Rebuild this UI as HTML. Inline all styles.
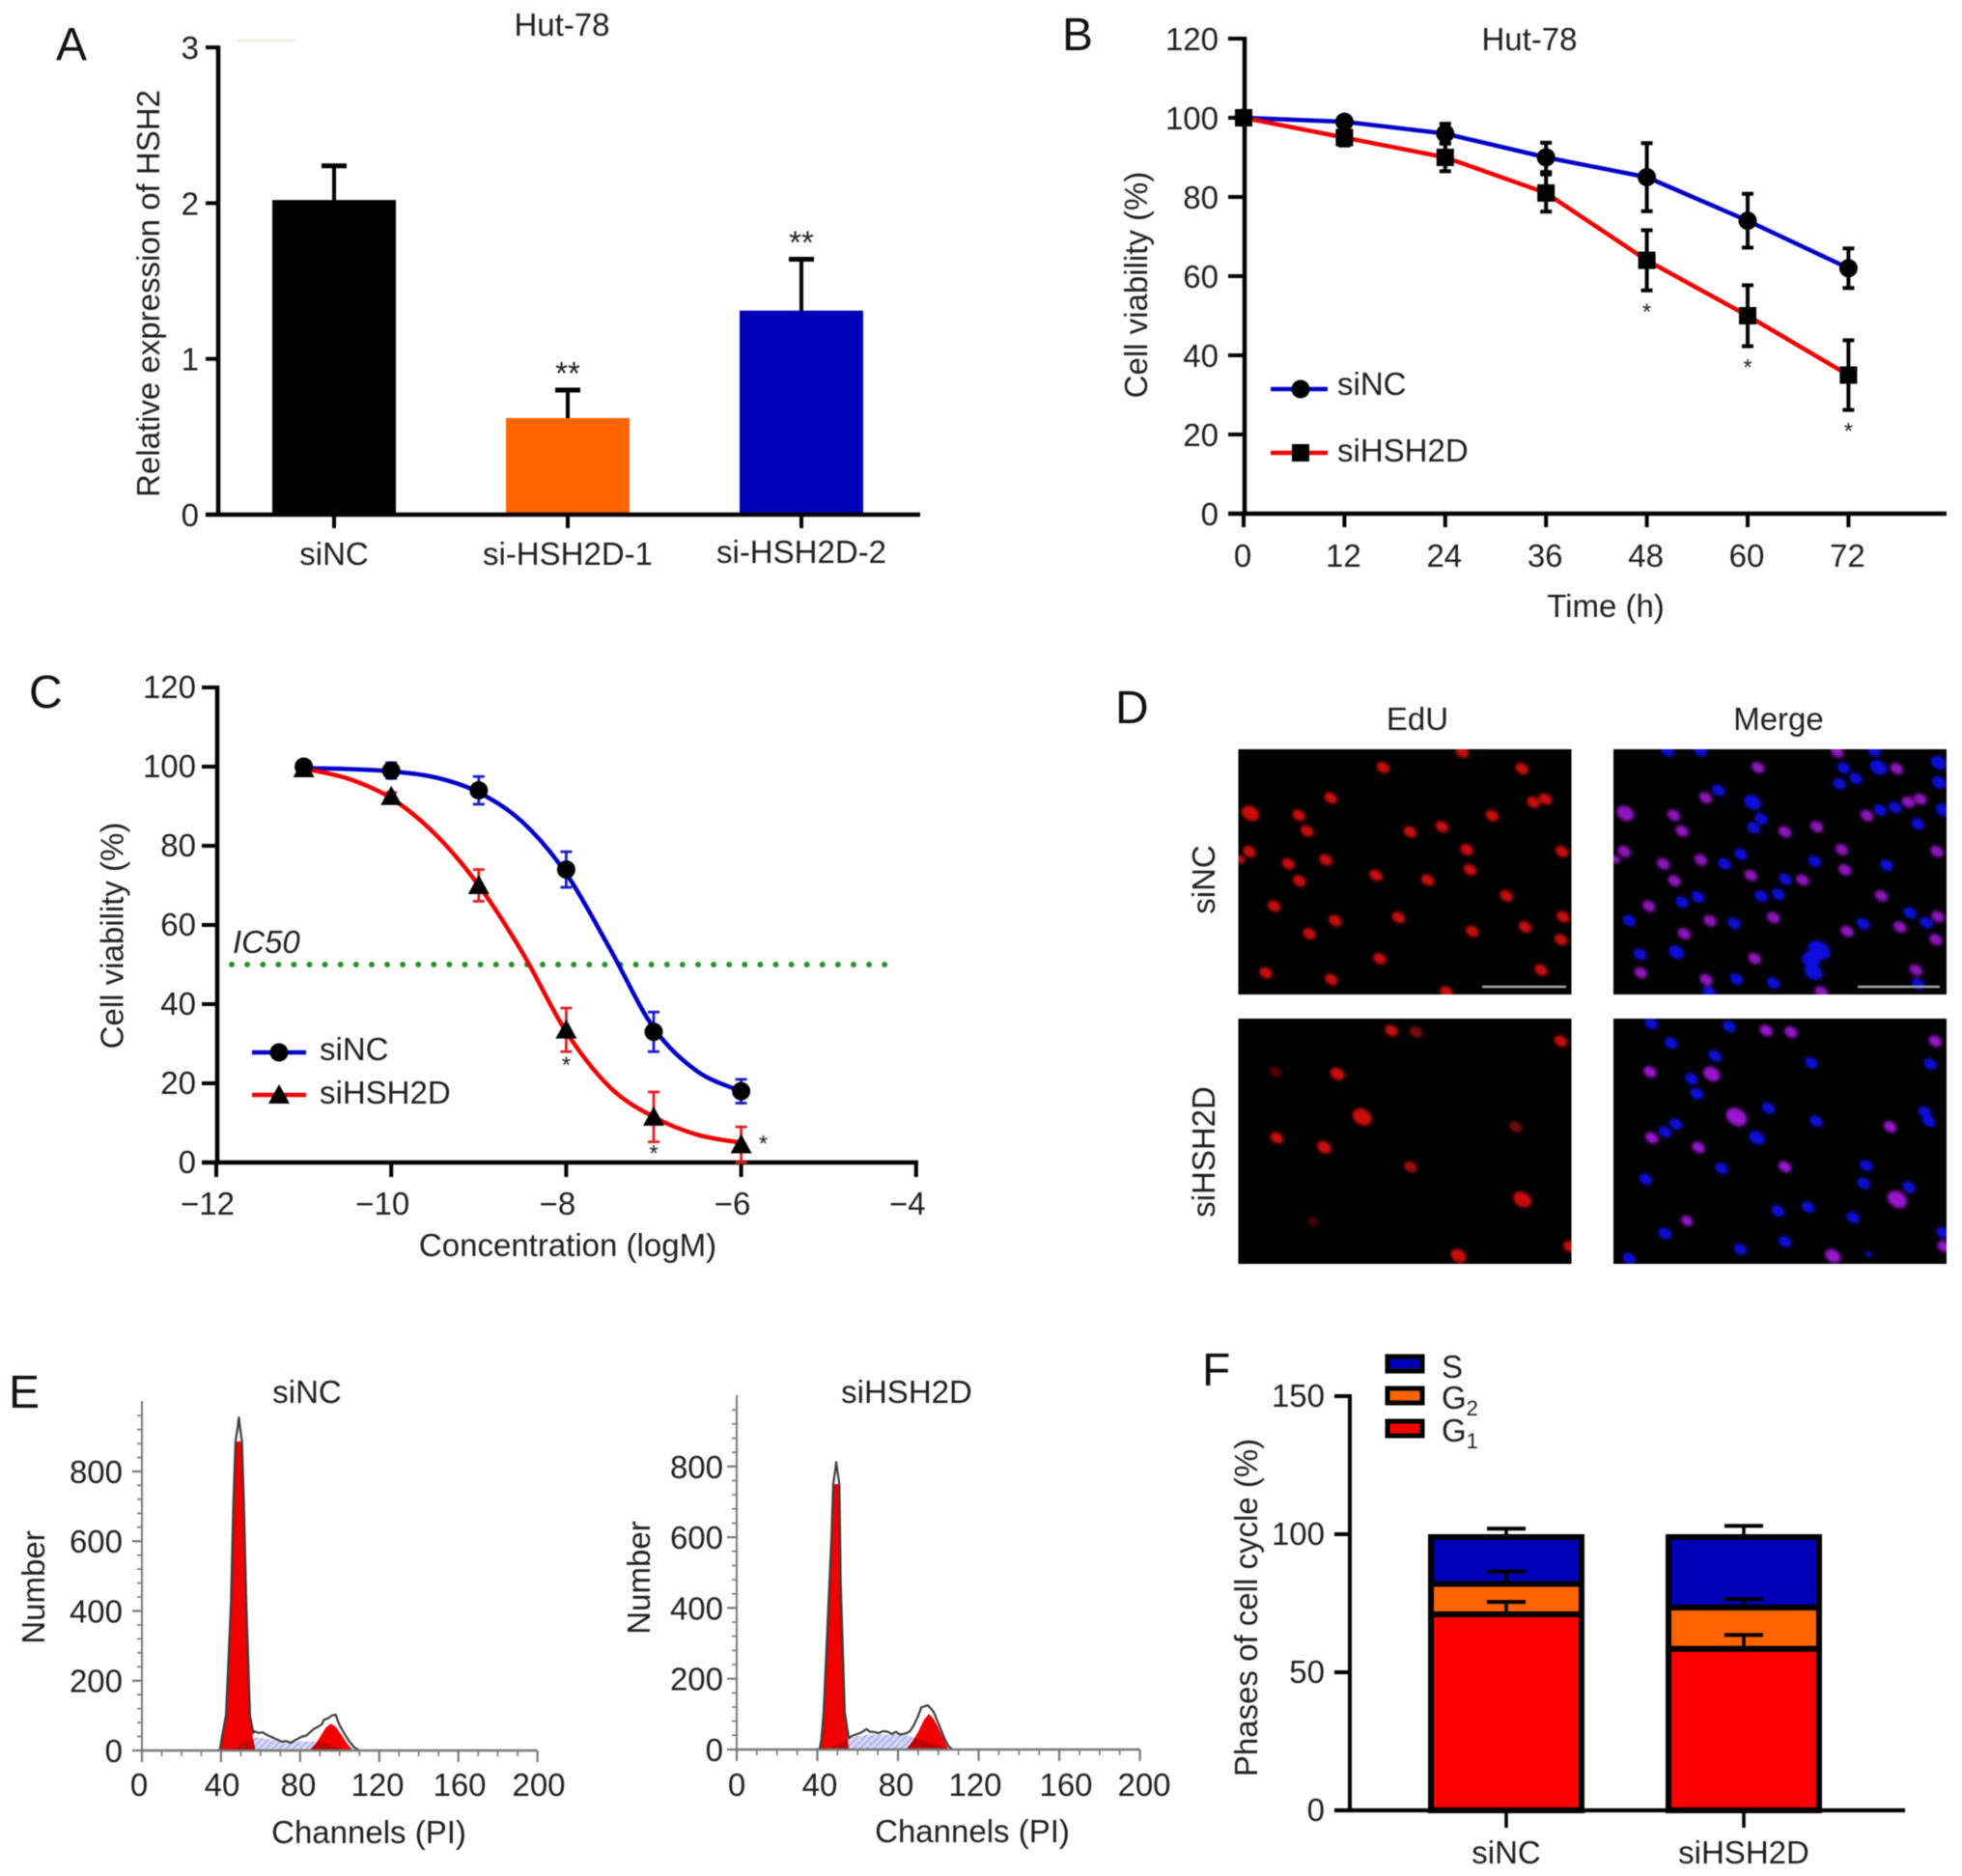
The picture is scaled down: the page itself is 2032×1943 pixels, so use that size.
<!DOCTYPE html>
<html lang="en">
<head>
<meta charset="utf-8">
<title>HSH2D knockdown figure</title>
<style>
html,body{margin:0;padding:0;background:#fff;}
#figure{display:block;width:2032px;height:1943px;filter:blur(0.6px);}
text{font-family:"Liberation Sans",Arial,sans-serif;fill:#1f1f1f;}
.letter{font-size:48px;fill:#111;}
.title{font-size:33px;}
</style>
</head>
<body>
<svg id="figure" xmlns="http://www.w3.org/2000/svg" width="2032" height="1943" viewBox="0 0 2032 1943">
  <defs>
    <pattern id="hatch" width="5" height="5" patternUnits="userSpaceOnUse" patternTransform="rotate(45)">
      <rect width="5" height="5" fill="#d6d6f6"/>
      <line x1="0" y1="0" x2="0" y2="5" stroke="#8a8ae0" stroke-width="1.6"/>
    </pattern>
    <filter id="soft" x="-30%" y="-30%" width="160%" height="160%"><feGaussianBlur stdDeviation="1.9"/></filter>
  </defs>
  <rect width="2032" height="1943" fill="#fff"/>

  <text class="letter" x="58" y="62">A</text>
  <text class="letter" x="1100" y="52">B</text>
  <text class="letter" x="30" y="733">C</text>
  <text class="letter" x="1155" y="749">D</text>
  <text class="letter" x="9" y="1458">E</text>
  <text class="letter" x="1245" y="1435">F</text>

  <line x1="245" y1="42" x2="306" y2="42" stroke="#eef0d8" stroke-width="2.5"/>
  <text class="title" x="582" y="37" text-anchor="middle">Hut-78</text>
  <text class="title" transform="translate(165,304) rotate(-90)" text-anchor="middle">Relative expression of HSH2</text>

  <text class="title" x="1584" y="52" text-anchor="middle">Hut-78</text>
  <text class="title" transform="translate(1188,295) rotate(-90)" text-anchor="middle">Cell viability (%)</text>
  <text class="title" x="1663" y="639" text-anchor="middle">Time (h)</text>
  <text class="title" x="1385" y="409">siNC</text>
  <text class="title" x="1385" y="478">siHSH2D</text>

  <text class="title" transform="translate(127.5,969) rotate(-90)" text-anchor="middle">Cell viability (%)</text>
  <text class="title" x="588" y="1301" text-anchor="middle">Concentration (logM)</text>
  <text class="title" x="241" y="987" font-style="italic">IC50</text>
  <text class="title" x="331" y="1098">siNC</text>
  <text class="title" x="331" y="1143">siHSH2D</text>

  <text class="title" x="1468" y="756" text-anchor="middle">EdU</text>
  <text class="title" x="1842" y="756" text-anchor="middle">Merge</text>
  <text class="title" transform="translate(1258,911) rotate(-90)" text-anchor="middle">siNC</text>
  <text class="title" transform="translate(1258,1193) rotate(-90)" text-anchor="middle">siHSH2D</text>

  <text class="title" x="318" y="1453" text-anchor="middle">siNC</text>
  <text class="title" x="939" y="1453" text-anchor="middle">siHSH2D</text>
  <text class="title" transform="translate(46,1644) rotate(-90)" text-anchor="middle">Number</text>
  <text class="title" transform="translate(673,1634) rotate(-90)" text-anchor="middle">Number</text>
  <text class="title" x="382" y="1909" text-anchor="middle">Channels (PI)</text>
  <text class="title" x="1007" y="1908" text-anchor="middle">Channels (PI)</text>

  <text class="title" transform="translate(1302,1665) rotate(-90)" text-anchor="middle">Phases of cell cycle (%)</text>
  <text class="title" x="1493" y="1427">S</text>
  <text class="title" x="1493" y="1459">G<tspan font-size="22" dy="7">2</tspan></text>
  <text class="title" x="1493" y="1493">G<tspan font-size="22" dy="7">1</tspan></text>
</svg>

<script>
/* ---------- Panel A data ---------- */
const aCategories = ['siNC', 'si-HSH2D-1', 'si-HSH2D-2'];
const aValues = [2.02, 0.62, 1.31];
const aErrors = [0.22, 0.18, 0.33];
const aStars = ['', '**', '**'];
const aColors = ['#000000', '#ff6400', '#0000b8'];
const aTicks = [0, 1, 2, 3];

/* ---------- Panel B data ---------- */
const bTimes = [0, 12, 24, 36, 48, 60, 72];
const bNC = [100, 99, 96, 90, 85, 74, 62];
const bNCErr = [0.5, 1, 2.5, 3.7, 8.6, 6.8, 5];
const bKD = [100, 95, 90, 81, 64, 50, 35];
const bKDErr = [0.5, 2, 3.5, 4.7, 7.6, 7.7, 8.8];
const bStars = ['', '', '', '', '*', '*', '*'];
const bYTicks = [0, 20, 40, 60, 80, 100, 120];

/* ---------- Panel C data ---------- */
const cConc = [-11, -10, -9, -8, -7, -6];
const cNC = [100, 99, 94, 74, 33, 18];
const cNCErr = [1.5, 2, 3.5, 4.5, 5, 3];
const cKD = [99.5, 92.5, 70, 33.5, 11.5, 4.5];
const cKDErr = [1, 1, 4, 5.5, 6.3, 4.5];
const cFitConc = [-11, -10.5, -10, -9.5, -9, -8.5, -8, -7.5, -7, -6.5, -6];
const cFitNC = [99.6, 99.4, 98.8, 97.3, 93.5, 86, 73, 54, 34, 23, 18];
const cFitKD = [99.5, 97, 92, 83, 70, 53, 33, 19, 11.5, 7, 5];
const cYTicks = [0, 20, 40, 60, 80, 100, 120];
const cXTicks = [-12, -10, -8, -6, -4];
const cThreshold = 50;

/* ---------- Panel D nuclei (field coordinates of the micrograph crop) ---------- */
const dTopRed = [[657,193],[513,232],[765,235],[418,309],[786,320],[808,312],[272,348,1.35],[360,353],[711,354],[375,393],[562,395],[620,382],[270,445],[665,440],[838,445],[341,476],[409,466],[254,465,.7],[671,491],[500,505],[594,517],[361,519],[737,557],[315,583],[426,620],[541,612],[840,610],[771,636],[675,647],[379,653],[836,668],[507,716],[800,745],[300,752],[419,769],[628,800]];
const dTopBlue = [[1350,233],[1413,232,1.3],[1522,220,1.2],[1372,260],[1342,273],[1523,270,1.1],[1122,290],[1184,320,1.3],[1200,362],[1186,385],[1416,340],[1443,333],[1530,340,1.1],[1485,375],[1163,452],[1133,476],[1297,470],[1428,480],[1244,515],[1200,558],[1231,553],[1056,573],[1085,560],[960,620],[1151,627],[1470,600],[1385,628],[1500,625],[1046,700,1.2],[980,705],[1305,695,1.7],[1290,720,1.4],[1295,750,1.4],[1155,768],[1222,778],[1105,800],[1485,780],[1030,190],[1090,190],[1405,190]];
const dBottomRed = [[528,898],[573,902,1,.6],[836,925],[318,1003,.9,.45],[430,1008,1.1],[475,1117,1.5],[754,1142,1,.55],[320,1170],[406,1194,1.1],[563,1243,1,.8],[766,1326,1.4],[386,1382,.8,.4],[650,1469,1.2],[852,1445]];
const dBottomPurple = [[1209,898],[1254,902],[1516,925],[998,1003],[1110,1008,1.3],[1155,1117,1.6],[1434,1142],[1001,1170],[1086,1194],[1243,1243],[1447,1326,1.5],[1065,1380,.9],[1330,1469,1.2],[1532,1445]];
const dBottomBlue = [[1000,880],[1142,888],[1036,930],[1116,963],[1291,980],[1507,983],[1073,1020],[1083,1058],[1213,1095],[1497,1105],[1505,1128],[1300,1128],[1045,1135],[1025,1155],[1192,1170,1.2],[1128,1247],[1391,1240],[1386,1285],[1468,1295],[990,1275],[1285,1345],[1230,1355],[1367,1372],[1025,1412],[1243,1433],[1162,1452],[960,1475],[1530,1410],[1395,1465,.5]];

/* ---------- Panel E data ---------- */
const eXTickLabels = [0, 40, 80, 120, 160, 200];
const eYTickLabels = [0, 200, 400, 600, 800];
const eLeftChannels = [38,39.5,40.2,42.5,45,46.2,47.3,48.4,49,49.6,50.6,51.6,52.8,54.7,56.3,57,59,61,63,65,67,69,71,73,75,77,79,81,83,85,87,89,91,92,94,96,98,99,100,102.7,105,107.5,110];
const eLeftCounts = [0,2,30,100,423,700,886,925,955,925,886,700,423,100,50,55,50,52,45,40,35,30,25,27,22,28,34,40,42,52,62,68,75,88,92,100,103,85,72,45,25,8,0];
const eLeftG1Channels = [39.5,40.2,42.5,45,46.2,47.3,50.6,51.6,52.8,54.7,56.3,57.5];
const eLeftG1Counts = [0,30,100,423,700,886,886,700,423,100,30,0];
const eLeftG2Channels = [84.5,88,91,93,95.5,98,101,104,106.7];
const eLeftG2Counts = [0,20,48,66,77,68,44,18,0];
const eLeftSChannels = [44,50,55,58,65,72,80,88,96,103];
const eLeftSCounts = [0,15,30,38,32,20,26,26,15,0];
const eRightChannels = [39,41.2,42,43.1,46,47,47.9,48.9,49.4,49.9,50.9,51.6,53.6,55.6,57,59,61,63,64.3,66,68,70,73,75,77,79,81,84.3,86,88,90,91.5,94.7,96,97.8,99,101,103,105,107];
const eRightCounts = [0,2,30,105,469,600,750,790,812,790,750,469,105,32,38,42,46,52,58,50,50,46,52,50,44,50,42,46,52,70,95,119,125,118,105,88,60,32,10,0];
const eRightG1Channels = [41.2,42,43.1,46,47,47.9,50.9,51.6,53.6,55.6];
const eRightG1Counts = [0,30,105,469,600,750,750,469,105,0];
const eRightG2Channels = [84,87,90,93,95.4,98,100,103,105];
const eRightG2Counts = [0,22,50,85,101,84,62,25,0];
const eRightSChannels = [44,50,55,58,65,75,85,92,100,105];
const eRightSCounts = [0,15,28,34,42,42,40,25,10,0];

/* ---------- Panel F data ---------- */
const fCategories = ['siNC', 'siHSH2D'];
const fG1 = [71, 58.5];
const fG2 = [11, 15];
const fS = [18, 26.5];
const fG1Err = [4.5, 5];
const fG2Err = [4.5, 3];
const fSErr = [2, 3];
const fYTicks = [0, 50, 100, 150];
const fLegendNames = ['S', 'G2', 'G1'];
const fLegendColors = ['#0000b8', '#ff6400', '#ff0000'];

/* ---------- helpers ---------- */
const NS = 'http://www.w3.org/2000/svg';
const svg = document.getElementById('figure');
function mk(tag, attrs, parent) {
  const el = document.createElementNS(NS, tag);
  for (const k in attrs) el.setAttribute(k, attrs[k]);
  (parent || svg).appendChild(el);
  return el;
}
function named(el, name, interactive) {
  
  
  return el;
}
function group(name) {
  return named(mk('g', {}), name);
}
function line(p, x1, y1, x2, y2, color, w, name) {
  return named(mk('line', {x1: x1, y1: y1, x2: x2, y2: y2, stroke: color, 'stroke-width': w}, p), name);
}
function label(p, x, y, str, anchor, size, name) {
  const t = mk('text', {x: x, y: y, 'text-anchor': anchor, 'font-size': size}, p);
  t.textContent = str;
  return named(t, name);
}
function errorBar(p, x, yHi, yLo, cap, color, w, name) {
  const g = named(mk('g', {}, p), name);
  line(g, x, yHi, x, yLo, color, w, name + '-stem');
  line(g, x - cap, yHi, x + cap, yHi, color, w, name + '-cap-upper');
  line(g, x - cap, yLo, x + cap, yLo, color, w, name + '-cap-lower');
  return g;
}
function marker(p, kind, x, y, name) {
  if (kind === 'circle') return named(mk('circle', {cx: x, cy: y, r: 9.5, fill: '#000'}, p), name);
  if (kind === 'square') return named(mk('rect', {x: x - 9, y: y - 9, width: 18, height: 18, fill: '#000'}, p), name);
  return named(mk('path', {d: 'M' + x + ' ' + (y - 11) + 'L' + (x + 11) + ' ' + (y + 9) + 'L' + (x - 11) + ' ' + (y + 9) + 'Z', fill: '#000'}, p), name);
}
function polyPath(xs, ys, xf, yf, close) {
  let d = '';
  xs.forEach(function (v, i) { d += (i ? 'L' : 'M') + xf(v).toFixed(1) + ' ' + yf(ys[i]).toFixed(1); });
  return d + (close ? 'Z' : '');
}
function smoothPath(xs, ys, xf, yf) {
  const pts = xs.map(function (v, i) { return [xf(v), yf(ys[i])]; });
  let d = 'M' + pts[0][0].toFixed(1) + ' ' + pts[0][1].toFixed(1);
  for (let i = 0; i < pts.length - 1; i++) {
    const a = pts[Math.max(i - 1, 0)], b = pts[i], c = pts[i + 1], e = pts[Math.min(i + 2, pts.length - 1)];
    d += 'C' + (b[0] + (c[0] - a[0]) / 6).toFixed(1) + ' ' + (b[1] + (c[1] - a[1]) / 6).toFixed(1) + ' ' +
         (c[0] - (e[0] - b[0]) / 6).toFixed(1) + ' ' + (c[1] - (e[1] - b[1]) / 6).toFixed(1) + ' ' +
         c[0].toFixed(1) + ' ' + c[1].toFixed(1);
  }
  return d;
}

/* ---------- Panel A ---------- */
(function () {
  const y = function (v) { return 533 - v * 161.3; };
  const x = function (i) { return 346 + i * 242; };
  const labelY = [585, 585, 583];
  const g = group('panel-a-bar-chart');
  aCategories.forEach(function (c, i) {
    const key = c.toLowerCase();
    const top = y(aValues[i] + aErrors[i]);
    line(g, x(i), y(aValues[i]) + 12, x(i), top, '#000', 4, 'error-stem-' + key);
    line(g, x(i) - 13, top, x(i) + 13, top, '#000', 5, 'error-cap-' + key);
    named(mk('rect', {x: x(i) - 64, y: y(aValues[i]), width: 128, height: y(0) - y(aValues[i]), fill: aColors[i]}, g), 'bar-' + key);
    line(g, x(i), y(0), x(i), 547, '#000', 4, 'x-tick-' + key);
    label(g, x(i), labelY[i], c, 'middle', 33, 'x-tick-label-' + key);
    if (aStars[i]) label(g, x(i), top - 6, aStars[i], 'middle', 33, 'significance-' + key);
  });
  aTicks.forEach(function (t) {
    line(g, 213, y(t), 226, y(t), '#000', 4, 'y-tick-' + t);
    label(g, 206, y(t) + 12, String(t), 'end', 33, 'y-tick-label-' + t);
  });
  line(g, 226, y(3) - 2, 226, y(0) + 2, '#000', 4.5, 'y-axis');
  line(g, 213, y(0), 953, y(0), '#000', 4.5, 'x-axis');
})();

/* ---------- Panel B ---------- */
(function () {
  const x = function (t) { return 1288 + t * 8.7; };
  const y = function (v) { return 532 - v * 4.1; };
  const g = group('panel-b-line-chart');
  bYTicks.forEach(function (t) {
    line(g, 1272, y(t), 1290, y(t), '#000', 4, 'y-tick-' + t);
    label(g, 1262, y(t) + 12, String(t), 'end', 33, 'y-tick-label-' + t);
  });
  bTimes.forEach(function (t) {
    line(g, x(t), y(0), x(t), 546, '#000', 4, 'x-tick-' + t);
    label(g, x(t) - 1, 587, String(t), 'middle', 33, 'x-tick-label-' + t);
  });
  line(g, 1289, y(120) - 2, 1289, y(0) + 2, '#000', 4.5, 'y-axis');
  line(g, 1272, y(0), 2016, y(0), '#000', 4.5, 'x-axis');
  named(mk('path', {d: polyPath(bTimes, bNC, x, y), fill: 'none', stroke: '#0000c8', 'stroke-width': 4.5, 'stroke-linejoin': 'round'}, g), 'line-sinc');
  named(mk('path', {d: polyPath(bTimes, bKD, x, y), fill: 'none', stroke: '#f00000', 'stroke-width': 4.5, 'stroke-linejoin': 'round'}, g), 'line-sihsh2d');
  bTimes.forEach(function (t, i) {
    errorBar(g, x(t), y(bNC[i] + bNCErr[i]), y(bNC[i] - bNCErr[i]), 6, '#000', 4, 'error-bar-sinc-' + t);
    errorBar(g, x(t), y(bKD[i] + bKDErr[i]), y(bKD[i] - bKDErr[i]), 6, '#000', 4, 'error-bar-sihsh2d-' + t);
    marker(g, 'circle', x(t), y(bNC[i]), 'point-sinc-' + t);
    marker(g, 'square', x(t), y(bKD[i]), 'point-sihsh2d-' + t);
    if (bStars[i]) label(g, x(t), y(bKD[i] - bKDErr[i]) + 30, bStars[i], 'middle', 24, 'significance-' + t);
  });
  line(g, 1316, 403, 1375, 403, '#0000c8', 4.5, 'legend-line-sinc');
  marker(g, 'circle', 1347, 403, 'legend-marker-sinc');
  line(g, 1316, 469, 1375, 469, '#f00000', 4.5, 'legend-line-sihsh2d');
  marker(g, 'square', 1347, 469, 'legend-marker-sihsh2d');
})();

/* ---------- Panel C ---------- */
(function () {
  const x = function (c) { return 224 + (c + 12) * 90.6; };
  const y = function (v) { return 1204 - v * 4.1; };
  const g = group('panel-c-dose-response');
  cYTicks.forEach(function (t) {
    line(g, 209, y(t), 225, y(t), '#000', 4, 'y-tick-' + t);
    label(g, 203, y(t) + 11, String(t), 'end', 33, 'y-tick-label-' + t);
  });
  cXTicks.forEach(function (t) {
    line(g, x(t), y(0), x(t), 1219, '#000', 4, 'x-tick-' + Math.abs(t));
    label(g, x(t) - 9, 1258, '\u2212' + Math.abs(t), 'middle', 33, 'x-tick-label-' + Math.abs(t));
  });
  line(g, 225, y(120) - 2, 225, y(0) + 2, '#000', 4.5, 'y-axis');
  line(g, 209, y(0), 951, y(0), '#000', 4.5, 'x-axis');
  named(mk('line', {x1: 240, y1: y(cThreshold), x2: 920, y2: y(cThreshold), stroke: '#2a902a', 'stroke-width': 6, 'stroke-dasharray': '0 16.1', 'stroke-linecap': 'round'}, g), 'ic50-threshold-line');
  cConc.forEach(function (c, i) {
    errorBar(g, x(c), y(cNC[i] + cNCErr[i]), y(cNC[i] - cNCErr[i]), 6, '#1a1ac8', 2.8, 'error-bar-sinc-' + Math.abs(c));
    errorBar(g, x(c), y(cKD[i] + cKDErr[i]), y(cKD[i] - cKDErr[i]), 6, '#e02020', 2.8, 'error-bar-sihsh2d-' + Math.abs(c));
  });
  named(mk('path', {d: smoothPath(cFitConc, cFitNC, x, y), fill: 'none', stroke: '#0000c8', 'stroke-width': 4.5}, g), 'fit-curve-sinc');
  named(mk('path', {d: smoothPath(cFitConc, cFitKD, x, y), fill: 'none', stroke: '#f00000', 'stroke-width': 4.5}, g), 'fit-curve-sihsh2d');
  cConc.forEach(function (c, i) {
    marker(g, 'circle', x(c), y(cNC[i]), 'point-sinc-' + Math.abs(c));
    marker(g, 'triangle', x(c), y(cKD[i]), 'point-sihsh2d-' + Math.abs(c));
  });
  label(g, x(-8), y(cKD[3] - cKDErr[3]) + 22, '*', 'middle', 24, 'significance-8');
  label(g, x(-7), y(cKD[4] - cKDErr[4]) + 20, '*', 'middle', 24, 'significance-7');
  label(g, x(-6) + 23, y(cKD[5]) + 7, '*', 'middle', 24, 'significance-6');
  line(g, 261, 1090, 317, 1090, '#0000c8', 4.5, 'legend-line-sinc');
  marker(g, 'circle', 289, 1090, 'legend-marker-sinc');
  line(g, 261, 1134, 317, 1134, '#f00000', 4.5, 'legend-line-sihsh2d');
  marker(g, 'triangle', 289, 1134, 'legend-marker-sihsh2d');
})();

/* ---------- Panel D ---------- */
(function () {
  const fx = function (u) { return 1140 + u / 1.754; };
  const fy = function (u) { return 700 + u / 2.445; };
  const g = group('panel-d-micrographs');
  function field(name, x, y) {
    const f = named(mk('g', {}, g), name);
    named(mk('rect', {x: x, y: y, width: 345, height: 254, fill: '#000'}, f), name + '-background');
    const clip = mk('clipPath', {id: name + '-clip'}, f);
    mk('rect', {x: x, y: y, width: 345, height: 254}, clip);
    const outer = named(mk('g', {'clip-path': 'url(#' + name + '-clip)'}, f), name + '-clip-area');
    return named(mk('g', {filter: 'url(#soft)'}, outer), name + '-nuclei');
  }
  function nuclei(p, list, dx, color, name) {
    list.forEach(function (n, i) {
      const cx = fx(n[0] + dx), cy = fy(n[1]), s = n[2] || 1;
      const o = n[3] || 1;
      const el = mk('ellipse', {cx: cx, cy: cy, rx: 7.2 * s, ry: 5.4 * s, fill: color, opacity: o, transform: 'rotate(32 ' + cx.toFixed(1) + ' ' + cy.toFixed(1) + ')'}, p);
      named(el, name + '-' + i);
    });
  }
  const a = field('edu-sinc', 1282.5, 776);
  nuclei(a, dTopRed, 0, '#cc0c0c', 'edu-nucleus');
  const b = field('merge-sinc', 1671, 776);
  nuclei(b, dTopBlue, 0, '#1010e0', 'merge-blue-nucleus');
  nuclei(b, dTopRed, 681, '#9012c0', 'merge-purple-nucleus');
  const c = field('edu-sihsh2d', 1282.5, 1055);
  nuclei(c, dBottomRed, 0, '#cc0c0c', 'edu-nucleus');
  const d = field('merge-sihsh2d', 1671, 1055);
  nuclei(d, dBottomBlue, 0, '#1010e0', 'merge-blue-nucleus');
  nuclei(d, dBottomPurple, 0, '#9a14d0', 'merge-purple-nucleus');
  line(g, 1535, 1022, 1622, 1022, '#a8a8a8', 2.5, 'scale-bar-edu');
  line(g, 1924, 1022, 2009, 1022, '#a8a8a8', 2.5, 'scale-bar-merge');
})();

/* ---------- Panel E ---------- */
function histogram(name, x, y, axisX, axisTop, labelRight, labelX, ch, counts, g1c, g1v, g2c, g2v, sc, sv) {
  const g = group(name);
  named(mk('path', {d: polyPath(g1c, g1v, x, y, true), fill: '#f00000'}, g), name + '-g1-peak');
  named(mk('path', {d: polyPath(g2c, g2v, x, y, true), fill: '#f00000'}, g), name + '-g2-peak');
  named(mk('path', {d: polyPath(sc, sv, x, y, true), fill: 'url(#hatch)', style: 'mix-blend-mode:multiply'}, g), name + '-s-phase');
  named(mk('path', {d: polyPath(ch, counts, x, y), fill: 'none', stroke: '#3c3c3c', 'stroke-width': 2.2, 'stroke-linejoin': 'round'}, g), name + '-histogram-outline');
  for (let c = 0; c <= 200; c += 10) {
    const major = c % 40 === 0;
    line(g, x(c), y(0), x(c), y(0) + (major ? 12 : 6), '#777', major ? 2.2 : 1.6, name + '-x-tick-' + c);
  }
  for (let v = 0; v * 0.37 < y(0) - axisTop; v += 40) {
    const major = v % 200 === 0;
    line(g, axisX - (major ? 10 : 5), y(v), axisX, y(v), '#777', major ? 2.2 : 1.6, name + '-y-tick-' + v);
  }
  line(g, axisX, axisTop, axisX, y(0) + 12, '#777', 2, name + '-y-axis');
  line(g, axisX, y(0), x(200), y(0), '#777', 2.5, name + '-x-axis');
  eXTickLabels.forEach(function (c, i) {
    label(g, labelX[i], 1860, String(c), 'middle', 33, name + '-x-tick-label-' + c);
  });
  eYTickLabels.forEach(function (v) {
    label(g, labelRight, y(v) + 12, String(v), 'end', 33, name + '-y-tick-label-' + v);
  });
}
histogram('panel-e-left', function (c) { return 147 + c * 2.048; }, function (v) { return 1813 - v * 0.3613; },
  147, 1451, 127, [144, 230, 309, 391, 476, 558],
  eLeftChannels, eLeftCounts, eLeftG1Channels, eLeftG1Counts, eLeftG2Channels, eLeftG2Counts, eLeftSChannels, eLeftSCounts);
histogram('panel-e-right', function (c) { return 763 + c * 2.088; }, function (v) { return 1812 - v * 0.3665; },
  763, 1445, 749, [763, 849, 928, 1010, 1104, 1185],
  eRightChannels, eRightCounts, eRightG1Channels, eRightG1Counts, eRightG2Channels, eRightG2Counts, eRightSChannels, eRightSCounts);

/* ---------- Panel F ---------- */
(function () {
  const y = function (v) { return 1875 - v * 2.86; };
  const x = function (i) { return 1560 + i * 246; };
  const g = group('panel-f-stacked-bars');
  fCategories.forEach(function (c, i) {
    const key = c.toLowerCase();
    const t1 = fG1[i], t2 = t1 + fG2[i], t3 = t2 + fS[i];
    function seg(lo, hi, color, name, inset) {
      named(mk('rect', {x: x(i) - 78, y: y(hi) + inset, width: 156, height: y(lo) - y(hi) - inset, fill: color, stroke: '#000', 'stroke-width': 6}, g), name);
    }
    seg(0, t1, '#ff0000', 'bar-g1-' + key, 0);
    seg(t1, t2, '#ff6400', 'bar-g2-' + key, 0);
    seg(t2, t3, '#0000b8', 'bar-s-' + key, 3);
    function err(top, e, name) {
      line(g, x(i), y(top), x(i), y(top + e), '#000', 3.5, name + '-stem');
      line(g, x(i) - 20, y(top + e), x(i) + 20, y(top + e), '#000', 4, name + '-cap');
    }
    err(t1, fG1Err[i], 'error-g1-' + key);
    err(t2, fG2Err[i], 'error-g2-' + key);
    err(t3, fSErr[i], 'error-s-' + key);
    line(g, x(i), y(0), x(i), 1893, '#000', 3.5, 'x-tick-' + key);
    label(g, x(i), 1930, c, 'middle', 33, 'x-tick-label-' + key);
  });
  fYTicks.forEach(function (t) {
    line(g, 1382, y(t), 1398, y(t), '#000', 4, 'y-tick-' + t);
    label(g, 1372, y(t) + 11, String(t), 'end', 33, 'y-tick-label-' + t);
  });
  line(g, 1398, y(150) - 2, 1398, y(0) + 2, '#000', 4, 'y-axis');
  line(g, 1382, y(0), 1973, y(0), '#000', 4.2, 'x-axis');
  const legendY = [1405, 1438, 1472];
  fLegendNames.forEach(function (n, i) {
    named(mk('rect', {x: 1437, y: legendY[i], width: 36, height: 15, fill: fLegendColors[i], stroke: '#000', 'stroke-width': 5}, g), 'legend-swatch-' + n.toLowerCase());
  });
})();
</script>
</body>
</html>
